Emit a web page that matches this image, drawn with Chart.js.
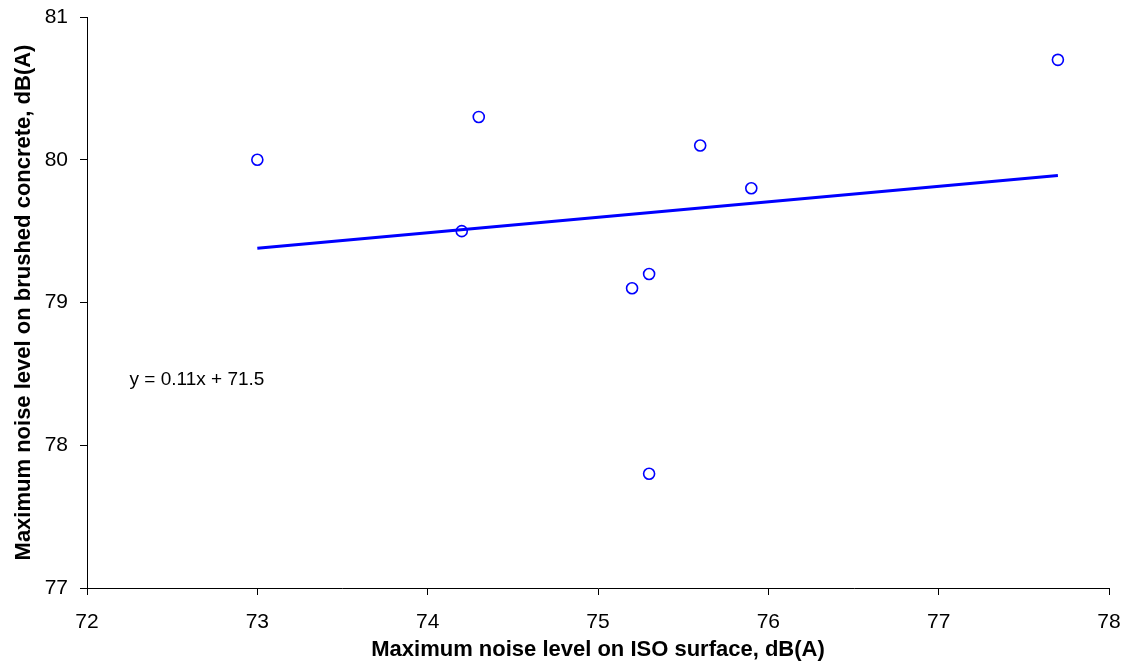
<!DOCTYPE html>
<html>
<head>
<meta charset="utf-8">
<script src="https://cdn.jsdelivr.net/npm/chart.js@4/dist/chart.umd.min.js"></script>
<style>
  html, body { margin: 0; padding: 0; background: #fff; }
  #wrap { width: 1125px; height: 666px; position: relative; }
</style>
</head>
<body>
<div id="wrap"><canvas id="c" width="1125" height="666"></canvas></div>
<script>
// Data
const isoLevels = [73.0, 74.3, 74.2, 75.6, 75.9, 75.2, 75.3, 75.3, 77.7];
const brushedLevels = [80.0, 80.3, 79.5, 80.1, 79.8, 79.1, 79.2, 77.8, 80.7];
const trendX = [73.0, 77.7];
const trendY = [79.38, 79.89];
const equationText = 'y = 0.11x + 71.5';
const equationPos = [72.25, 78.42];
const xTicks = [72, 73, 74, 75, 76, 77, 78];
const yTicks = [77, 78, 79, 80, 81];
const xTitle = 'Maximum noise level on ISO surface, dB(A)';
const yTitle = 'Maximum noise level on brushed concrete, dB(A)';

const FONT = 'Liberation Sans, Arial, sans-serif';
const BLUE = '#0000FF';

const pointsData = isoLevels.map((x, i) => ({ x: x, y: brushedLevels[i] }));
const trendData = trendX.map((x, i) => ({ x: x, y: trendY[i] }));

const equationPlugin = {
  id: 'equation',
  afterDatasetsDraw(chart) {
    const ctx = chart.ctx;
    const px = chart.scales.x.getPixelForValue(equationPos[0]);
    const py = chart.scales.y.getPixelForValue(equationPos[1]);
    ctx.save();
    ctx.font = '19px ' + FONT;
    ctx.fillStyle = '#000';
    ctx.textAlign = 'left';
    ctx.textBaseline = 'alphabetic';
    ctx.fillText(equationText, px, py);
    ctx.restore();
  }
};

new Chart(document.getElementById('c'), {
  type: 'scatter',
  data: {
    datasets: [
      {
        label: 'Trend',
        data: trendData,
        showLine: true,
        borderColor: BLUE,
        borderWidth: 3,
        pointRadius: 0,
        fill: false,
        order: 2
      },
      {
        label: 'Points',
        data: pointsData,
        pointStyle: 'circle',
        pointRadius: 5.5,
        pointBorderWidth: 1.6,
        borderColor: BLUE,
        backgroundColor: 'rgba(255,255,255,0)',
        order: 1
      }
    ]
  },
  options: {
    responsive: false,
    animation: false,
    devicePixelRatio: 1,
    layout: { padding: { left: 0, right: 16, top: 17, bottom: 0 } },
    plugins: {
      legend: { display: false },
      tooltip: { enabled: false }
    },
    scales: {
      x: {
        type: 'linear',
        min: xTicks[0],
        max: xTicks[xTicks.length - 1],
        afterBuildTicks(scale) { scale.ticks = xTicks.map(v => ({ value: v })); },
        afterFit(scale) { scale.height = 78; scale.paddingLeft = 0; scale.paddingRight = 0; },
        grid: { drawOnChartArea: false, drawTicks: true, tickLength: 7, color: '#000', lineWidth: 1 },
        border: { display: true, color: '#000', width: 1 },
        ticks: { color: '#000', font: { family: FONT, size: 21 }, padding: 15 },
        title: {
          display: true,
          text: xTitle,
          color: '#000',
          font: { family: FONT, size: 22, weight: 'bold' },
          padding: { top: 0, bottom: 3 }
        }
      },
      y: {
        type: 'linear',
        min: yTicks[0],
        max: yTicks[yTicks.length - 1],
        afterBuildTicks(scale) { scale.ticks = yTicks.map(v => ({ value: v })); },
        afterFit(scale) { scale.width = 87; scale.paddingTop = 0; scale.paddingBottom = 0; },
        grid: { drawOnChartArea: false, drawTicks: true, tickLength: 7, color: '#000', lineWidth: 1 },
        border: { display: true, color: '#000', width: 1 },
        ticks: { color: '#000', font: { family: FONT, size: 21 }, padding: 12 },
        title: {
          display: true,
          text: yTitle,
          color: '#000',
          font: { family: FONT, size: 22, weight: 'bold' },
          padding: { top: 11, bottom: 0 }
        }
      }
    }
  },
  plugins: [equationPlugin]
});
</script>
</body>
</html>
